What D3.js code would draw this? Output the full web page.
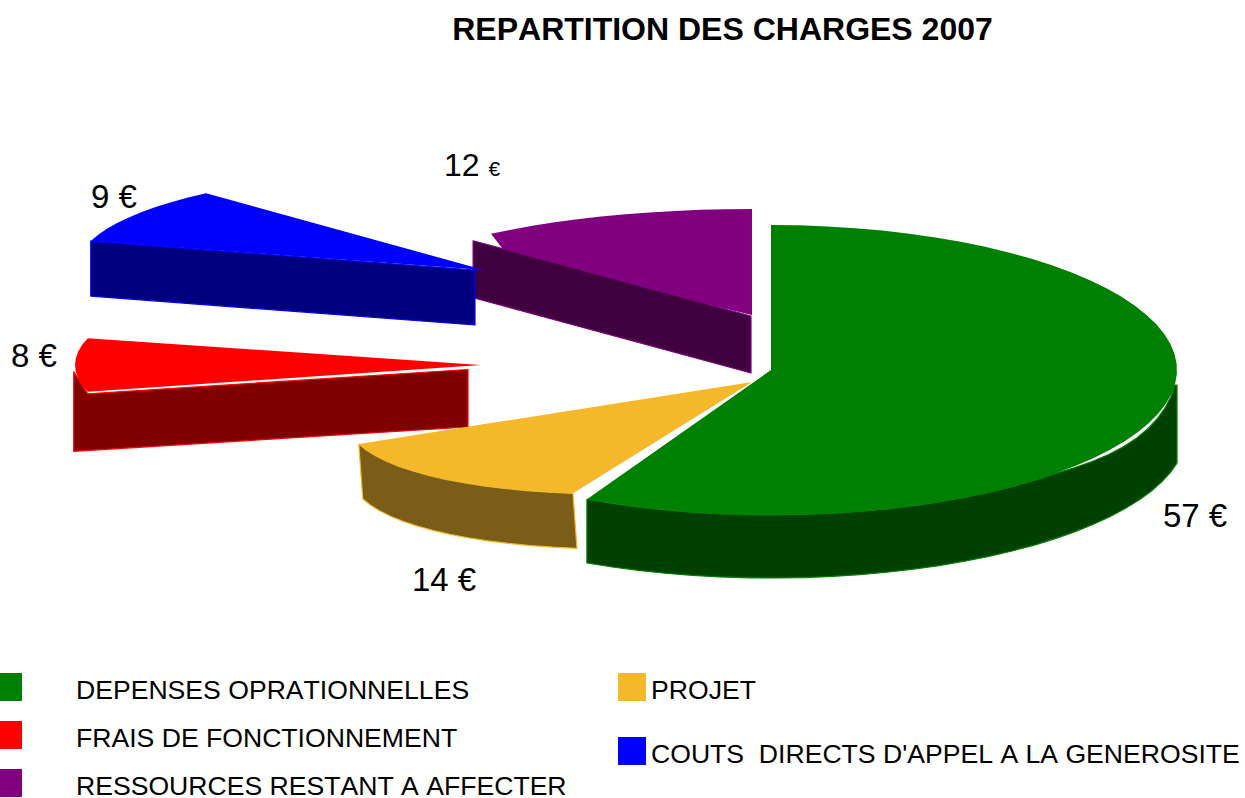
<!DOCTYPE html>
<html>
<head>
<meta charset="utf-8">
<script src="https://cdn.jsdelivr.net/npm/d3@7/dist/d3.min.js"></script>
<style>
html,body{margin:0;padding:0;background:#fff}
svg{display:block}
text{font-family:"Liberation Sans",Arial,sans-serif;fill:#000;font-kerning:none}
</style>
</head>
<body>
<svg id="chart" width="1245" height="798"></svg>
<script>
// ---- data ----
const title = "REPARTITION DES CHARGES 2007";
const categories = ["DEPENSES OPRATIONNELLES","PROJET","FRAIS DE FONCTIONNEMENT","COUTS  DIRECTS D'APPEL A LA GENEROSITE","RESSOURCES RESTANT A AFFECTER"];
const values = [57.49, 13.51, 8, 9, 12];
const colors = ["#008000","#f4b82a","#ff0000","#0000ff","#800080"];
const wallColors = ["#004000","#7a5e17","#800000","#000080","#400040"];

// ---- layout of the exploded, hand-skewed pie (not data) ----
const RX = 406;
const deg = Math.PI/180;
const layout = [
  {apex:[771,370], ry:145, shear:0,     kind:"green",  label:[1163,527]},
  {apex:[752,382], ry:106, shear:-.0905,kind:"curved", trim:-.8*deg, wallShift:[4,55], label:[412,591]},
  {apex:[481,365], ry:108, shear:0,     kind:"flat", under:true, from:[-14,2], to:[-13,4.5], depth:57.5, corner:[0,-22], inner:[14,0], label:[11,367]},
  {apex:[484,270], ry:102, shear:.009,  kind:"flat", from:[0,0], to:[-9,0], depth:55, label:[91,208]},
  {apex:[752,315], ry:106, shear:0,     kind:"flat", from:[-1,3], to:[-1,1], depth:57, trim:3.2*deg, notch:[-243,-58], label:[444,176], smallEuro:true}
];
const drawOrder = [4,3,2,1,0];

const svg = d3.select("#chart");
const slices = d3.pie().sort(null).value(d=>d)(values);
const line = d3.line();
const STEP = 4*deg;
const sweep = (a,b)=>{const n=Math.max(2,Math.ceil(Math.abs(b-a)/STEP));return d3.range(n+1).map(i=>a+(b-a)*i/n);};
const onEllipse = (l,t,rx=RX,ry=l.ry)=>{
  const x=rx*Math.sin(t);
  return [l.apex[0]+x, l.apex[1]-ry*Math.cos(t)+l.shear*x];
};
const shift=(p,o)=>[p[0]+o[0],p[1]+o[1]];

function drawSlice(i){
  const s=slices[i], l=layout[i], g=svg.append("g");
  const a0=s.startAngle+(l.trim||0), a1=s.endAngle;
  const arcPts=sweep(a0,a1).map(t=>onEllipse(l,t));
  const topPts=[l.apex];
  if(l.notch) topPts.push(shift(l.apex,l.notch));
  topPts.push(...arcPts);

  const wallStyle=sel=>sel.attr("fill",wallColors[i]).attr("stroke",colors[i]).attr("stroke-width",1.2).attr("stroke-linejoin","round");
  const top=()=>g.append("path").attr("d",line(topPts)+"Z").attr("fill",colors[i]);
  let wall;
  if(l.kind==="flat"){
    const A=shift(onEllipse(l,s.startAngle),l.from), B=shift(l.apex,l.to);
    const pts=[];
    if(l.corner) pts.push(shift(A,l.corner),shift(A,l.inner)); else pts.push(A);
    pts.push(B,[B[0],B[1]+l.depth],[A[0],A[1]+l.depth]);
    wall=()=>g.append("path").attr("d",line(pts)+"Z").call(wallStyle);
  } else if(l.kind==="curved"){
    const up=sweep(a0,a1).map(t=>onEllipse(l,t));
    const down=up.map(p=>shift(p,l.wallShift)).reverse();
    wall=()=>g.append("path").attr("d",line([...up,...down])+"Z").call(wallStyle);
  } else {
    // main slice: thin white gap under the right-hand rim, vertical side at the ellipse extreme
    const t0=96*deg, tGapEnd=135*deg;
    const up=sweep(t0,a1).map(t=>{
      const p=onEllipse(l,t);
      const g0=t<tGapEnd?5*Math.sin(Math.PI*(t-t0)/(tGapEnd-t0)):0;
      return [p[0],p[1]+g0];
    });
    const rxB=415, xMax=l.apex[0]+RX, cyB=63;
    const startB=Math.PI-Math.asin(RX/rxB);
    const endB=Math.PI+Math.asin((l.apex[0]-up[up.length-1][0])/rxB);
    const low=sweep(startB,endB).map(t=>{
      const p=onEllipse(l,t,rxB);
      return [Math.min(p[0],xMax),p[1]+cyB];
    }).reverse();
    wall=()=>g.append("path").attr("d",line([[xMax,up[0][1]],...up,...low,[xMax,low[low.length-1][1]]])+"Z").call(wallStyle);
  }
  if(l.kind==="flat" && !l.under){top();wall();} else {wall();top();}
}
drawOrder.forEach(drawSlice);

// ---- value labels ----
values.forEach((v,i)=>{
  const l=layout[i];
  const t=svg.append("text").attr("x",l.label[0]).attr("y",l.label[1]).attr("font-size",33).attr("xml:space","preserve");
  if(l.smallEuro){
    t.attr("font-size",32);
    t.append("tspan").text(Math.round(v)+" ");
    t.append("tspan").attr("font-size",21).text("€");
  } else t.text(Math.round(v)+" €");
});

// ---- title ----
svg.append("text").attr("x",722.5).attr("y",40).attr("text-anchor","middle")
  .attr("font-size",32).attr("font-weight","bold").text(title);

// ---- legend ----
categories.forEach((c,i)=>{
  const right=i%2===1, row=Math.floor(i/2);
  const y=673+row*(right?64:48);
  svg.append("rect").attr("x",right?618:0).attr("y",y).attr("width",right?28:22).attr("height",28).attr("fill",colors[i]);
  svg.append("text").attr("x",right?651:76).attr("y",y+25.5).attr("font-size",26.6)
    .attr("xml:space","preserve").style("white-space","pre").text(c);
});
</script>
</body>
</html>
